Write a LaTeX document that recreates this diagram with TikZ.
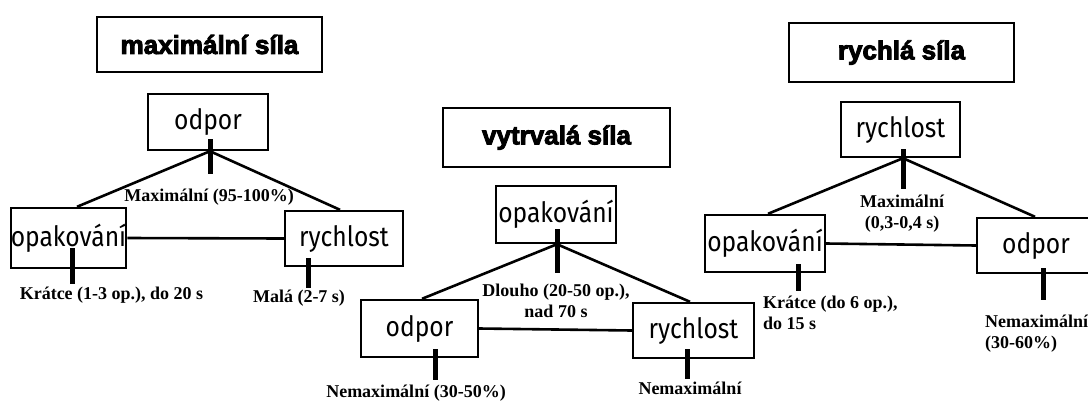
\documentclass[tikz,border=0pt]{standalone}
\usepackage{fontspec}
\setmainfont{Liberation Serif}
\newfontfamily\boxfont{Fira Sans}[FakeStretch=0.88]
\newfontfamily\titlefont{Liberation Sans}[BoldFeatures={FakeBold=3.5}]
\begin{document}
\begin{tikzpicture}[x=1pt,y=-1pt,
  titlebox/.style={draw, line width=2.4pt, inner sep=0pt,
    font=\titlefont\bfseries\fontsize{26}{30}\selectfont},
  factor/.style={draw, line width=2.4pt, inner sep=0pt, minimum height=56pt,
    font=\boxfont\fontsize{28}{32}\selectfont},
  note/.style={inner sep=0pt, font=\bfseries\fontsize{18}{21}\selectfont},
  link/.style={line width=2.6pt},
  tick/.style={line width=5pt}]
\path[use as bounding box] (0,0) rectangle (1088,400);
\clip (0,0) rectangle (1088,400);

% ---- maximální síla ----
\node[titlebox, minimum width=225pt, minimum height=55pt] (t1) at (209.5,44.5) {maximální síla};
\node[factor, minimum width=120pt] (a1) at (208,122) {odpor};
\node[factor, minimum width=113pt, minimum height=60pt] (b1) at (68.5,238) {opakování};
\node[factor, minimum width=118pt, minimum height=55pt] (c1) at (344,238.5) {rychlost};
\draw[link] ([xshift=2pt]a1.south) -- ([xshift=8.5pt]b1.north);
\draw[link] ([xshift=2pt]a1.south) -- ([xshift=-4pt]c1.north);
\draw[link] (b1.east) -- (c1.west);
\draw[tick] ([xshift=2pt,yshift=12pt]a1.south) -- ([xshift=2pt,yshift=-23pt]a1.south);
\draw[tick] ([xshift=3.5pt,yshift=21pt]b1.south) -- ([xshift=3.5pt,yshift=-15pt]b1.south);
\draw[tick] ([xshift=-36pt,yshift=9pt]c1.south) -- ([xshift=-36pt,yshift=-21pt]c1.south);
\node[note] (m1) at (209,197) {Maximální (95-100\%)};
\node[note] (k1) at (111.5,295) {Krátce (1-3 op.), do 20 s};
\node[note] (r1) at (299,298) {Malá (2-7 s)};

% ---- vytrvalá síla ----
\node[titlebox, minimum width=227pt, minimum height=59pt] (t2) at (556.5,137.5) {vytrvalá síla};
\node[factor, minimum width=120pt, minimum height=57pt] (a2) at (556,214.5) {opakování};
\node[factor, minimum width=117pt, minimum height=57pt] (b2) at (419.5,328.5) {odpor};
\node[factor, minimum width=121pt, minimum height=55pt] (c2) at (693.5,330.5) {rychlost};
\draw[link] ([xshift=1pt]a2.south) -- ([xshift=2.5pt]b2.north);
\draw[link] ([xshift=1pt]a2.south) -- ([xshift=-3.5pt]c2.north);
\draw[link] (b2.east) -- (c2.west);
\draw[tick] ([xshift=1pt,yshift=15pt]a2.south) -- ([xshift=1pt,yshift=-29pt]a2.south);
\draw[tick] ([xshift=15.5pt,yshift=9pt]b2.south) -- ([xshift=15.5pt,yshift=-22pt]b2.south);
\draw[tick] ([xshift=-6.5pt,yshift=10pt]c2.south) -- ([xshift=-6.5pt,yshift=-20pt]c2.south);
\node[note, align=center] (m2) at (556,301) {Dlouho (20-50 op.),\\nad 70 s};
\node[note, anchor=base] (k2) at (416,397) {Nemaximální (30-50\%)};
\node[note, anchor=base] (r2) at (690,394) {Nemaximální};

% ---- rychlá síla ----
\node[titlebox, minimum width=225pt, minimum height=59pt] (t3) at (901.5,52.5) {rychlá síla};
\node[factor, minimum width=119pt, minimum height=55pt] (a3) at (900.5,129.5) {rychlost};
\node[factor, minimum width=120pt, minimum height=57pt] (b3) at (765,243.5) {opakování};
\node[factor, minimum width=118pt, minimum height=55pt] (c3) at (1036,245.5) {odpor};
\draw[link] ([xshift=2.5pt]a3.south) -- ([xshift=3pt]b3.north);
\draw[link] ([xshift=2.5pt]a3.south) -- ([xshift=-1pt]c3.north);
\draw[link] (b3.east) -- (c3.west);
\draw[tick] ([xshift=2.5pt,yshift=9pt]a3.south) -- ([xshift=2.5pt,yshift=-31pt]a3.south);
\draw[tick] ([xshift=33pt,yshift=9pt]b3.south) -- ([xshift=33pt,yshift=-18pt]b3.south);
\draw[tick] ([xshift=7pt,yshift=6pt]c3.south) -- ([xshift=7pt,yshift=-26pt]c3.south);
\node[note, align=center] (m3) at (902,214) {Maximální\\(0,3-0,4 s)};
\node[note, align=left, anchor=west] (k3) at (763,313) {Krátce (do 6 op.),\\do 15 s};
\node[note, align=left, anchor=west] (r3) at (985,334) {Nemaximální\\(30-60\%)};
\end{tikzpicture}
\end{document}
